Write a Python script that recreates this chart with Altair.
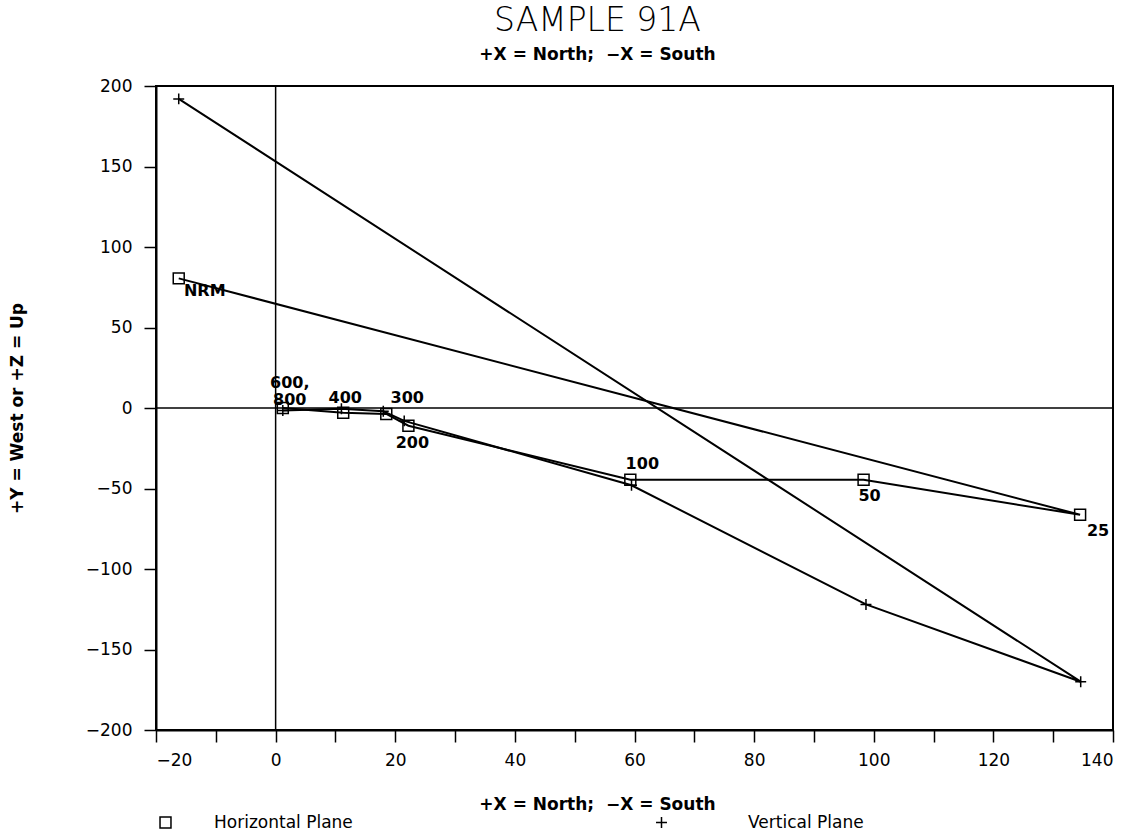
import altair as alt
import pandas as pd

# ---- data ----
steps = ["NRM", "25", "50", "100", "200", "300", "400", "600,800"]
step_labels = ["NRM", "25", "50", "100", "200", "300", "400", "600,\n800"]
h_x = [-16.2, 134.5, 98.3, 59.3, 22.2, 18.5, 11.3, 1.2]
h_y = [80.5, -66.3, -44.6, -44.6, -11.0, -3.7, -3.0, 0.0]
v_x = [-16.2, 134.6, 98.7, 59.5, 21.5, 18.0, 11.0, 1.2]
v_y = [192.0, -170.0, -122.0, -48.0, -8.0, -2.0, -0.5, -1.5]
planes = ["Horizontal Plane", "Vertical Plane"]
x_ticks = list(range(-20, 141, 10))
y_ticks = list(range(-200, 201, 50))

rows = []
for i, s in enumerate(steps):
    rows.append({"step": s, "order": i, "x": h_x[i], "y": h_y[i], "plane": planes[0]})
for i, s in enumerate(steps):
    rows.append({"step": s, "order": i, "x": v_x[i], "y": v_y[i], "plane": planes[1]})
df = pd.DataFrame(rows)
lab_df = pd.DataFrame({"step": steps, "label": step_labels, "x": h_x, "y": h_y})

# label offsets (px) - style only
offsets = {
    "NRM": (26, 13), "25": (18, 16), "50": (6, 16), "100": (12, -16),
    "200": (4, 17), "300": (21, -16), "400": (2, -15), "600,800": (7, -25),
}

FONT = "DejaVu Sans"
xs = alt.Scale(domain=[-20, 140], nice=False, zero=False)
ys = alt.Scale(domain=[-200, 200], nice=False, zero=False)

x_axis = alt.Axis(values=x_ticks, labelExpr="datum.value % 20 == 0 ? datum.label : ''",
                  title="+X = North;\u00a0\u00a0\u2212X = South", titleX=441, titlePadding=28,
                  tickSize=12, labelPadding=10, grid=False)
y_axis = alt.Axis(values=y_ticks, title="+Y = West or +Z = Up", tickSize=12,
                  labelPadding=12, titlePadding=59, grid=False)

zero_v = alt.Chart(pd.DataFrame({"x": [0.0]})).mark_rule(color="black", strokeWidth=1.5).encode(
    x=alt.X("x:Q", scale=xs, axis=x_axis))
zero_h = alt.Chart(pd.DataFrame({"y": [0.0]})).mark_rule(color="black", strokeWidth=1.5).encode(
    y=alt.Y("y:Q", scale=ys, axis=y_axis))

lines = alt.Chart(df).mark_line(color="black", strokeWidth=2).encode(
    x=alt.X("x:Q", scale=xs), y=alt.Y("y:Q", scale=ys),
    detail="plane:N", order="order:Q")


def legend_for(lx, offset):
    return alt.Legend(title=None, orient="none", legendX=lx, legendY=728,
                      labelOffset=offset, labelFont=FONT, labelFontSize=17,
                      labelColor="black", symbolSize=120, symbolStrokeWidth=1.5,
                      symbolStrokeColor="black", symbolFillColor="transparent",
                      labelLimit=400, padding=0)


pts_h = alt.Chart(df).transform_filter(alt.datum.plane == planes[0]).mark_point(
    filled=False, color="black", strokeWidth=1.5, size=120, opacity=1).encode(
    x=alt.X("x:Q", scale=xs), y=alt.Y("y:Q", scale=ys),
    shape=alt.Shape("plane:N", scale=alt.Scale(domain=[planes[0]], range=["square"]),
                    legend=legend_for(1, 40)))

pts_v = alt.Chart(df).transform_filter(alt.datum.plane == planes[1]).mark_point(
    filled=False, color="black", strokeWidth=1.5, size=120, opacity=1).encode(
    x=alt.X("x:Q", scale=xs), y=alt.Y("y:Q", scale=ys),
    shape=alt.Shape("plane:N", scale=alt.Scale(domain=[planes[1]], range=["M-1,0H1M0,-1V1"]),
                    legend=legend_for(497, 78)))

texts = []
for s in steps:
    dx, dy = offsets[s]
    texts.append(
        alt.Chart(lab_df).transform_filter(alt.datum.step == s).mark_text(
            font=FONT, fontSize=16, fontWeight="bold", color="black", align="center",
            baseline="middle", dx=dx, dy=dy, lineBreak="\n", lineHeight=17).encode(
            x=alt.X("x:Q", scale=xs), y=alt.Y("y:Q", scale=ys), text="label:N"))

chart = alt.layer(zero_v, zero_h, lines, pts_h, pts_v, *texts).resolve_scale(
    shape="independent"
).properties(
    width=957, height=644,
    background="white",
    autosize=alt.AutoSizeParams(type="none"),
    padding={"left": 156, "top": 86, "right": 25, "bottom": 108},
    title=alt.TitleParams(text="SAMPLE 91A", subtitle="+X = North;\u00a0\u00a0\u2212X = South",
                          font=FONT, fontSize=33, fontWeight=300, color="black",
                          subtitleFont=FONT, subtitleFontSize=17, subtitleFontWeight="bold",
                          subtitleColor="black", anchor="middle", dx=-37, offset=14,
                          subtitlePadding=9),
).configure_view(stroke="black", strokeWidth=2).configure_axis(
    domainColor="black", domainWidth=2, tickColor="black", tickWidth=1.5,
    labelFont=FONT, labelFontSize=17, labelColor="black",
    titleFont=FONT, titleFontSize=17, titleFontWeight="bold", titleColor="black",
    labelOverlap=False,
)

chart.save("out.html", embed_options={"renderer": "svg", "actions": False})
